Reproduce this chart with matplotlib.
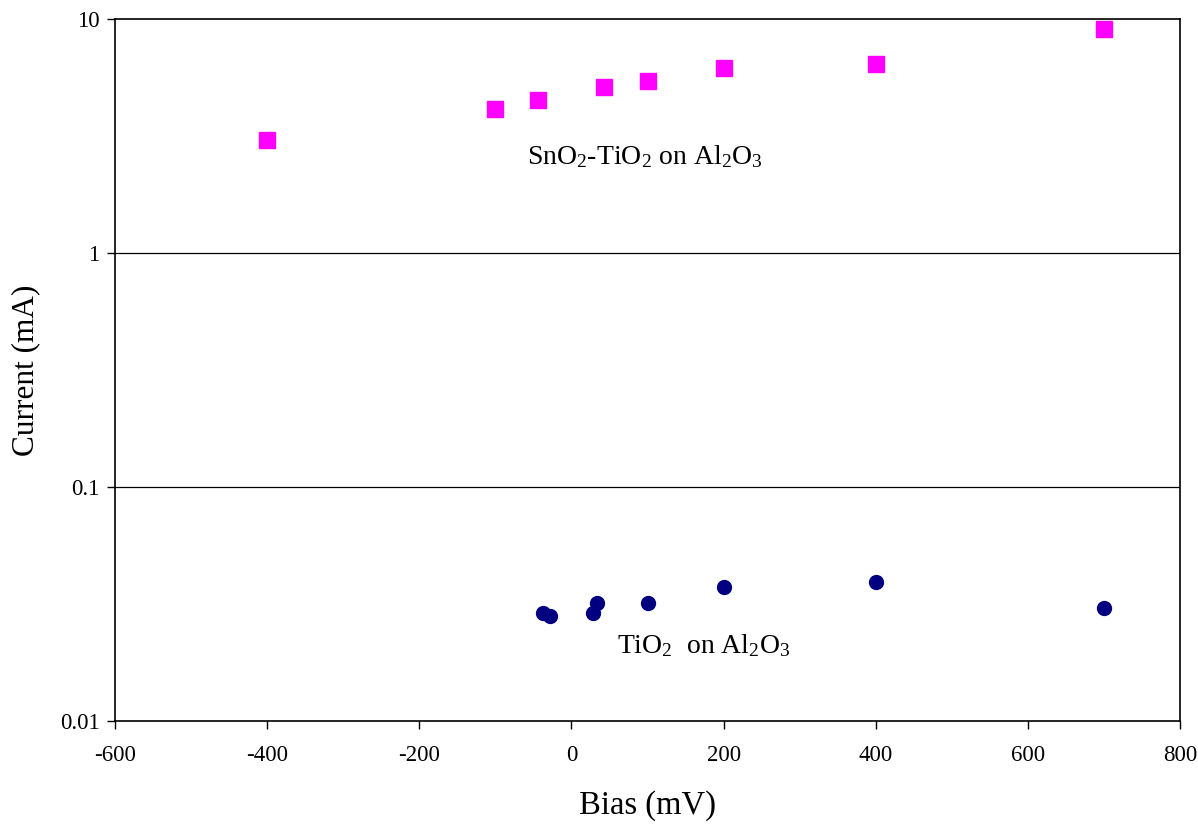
import numpy as np
import matplotlib.pyplot as plt

plt.rcParams['font.family'] = 'Liberation Serif'
plt.rcParams['mathtext.fontset'] = 'custom'
plt.rcParams['mathtext.rm'] = 'Liberation Serif'
plt.rcParams['mathtext.it'] = 'Liberation Serif'

# SnO2-TiO2 on Al2O3
bias_sn = [-400, -100, -44, 43, 100, 200, 400, 700]
cur_sn = [3.04, 4.12, 4.51, 5.12, 5.43, 6.18, 6.42, 9.06]

# TiO2 on Al2O3
bias_ti = [-37, -28, 34, 28, 100, 200, 400, 700]
cur_ti = [0.029, 0.0281, 0.0319, 0.029, 0.0319, 0.0374, 0.0393, 0.0304]

fig = plt.figure(figsize=(11.98, 8.25), dpi=100)
ax = fig.add_axes([0.096, 0.126, 0.889, 0.851])

ax.set_yscale('log')
ax.set_xlim(-600, 800)
ax.set_ylim(0.01, 10)
for yv in [0.1, 1]:
    ax.axhline(yv, color='black', lw=0.9, zorder=1)

ax.plot(bias_sn, cur_sn, 's', color='#ff00ff', markersize=11, zorder=3)
ax.plot(bias_ti, cur_ti, 'o', color='#000080', markersize=10, zorder=3)

ax.text(-58, 2.57, r'SnO$_2$-TiO$_2$ on Al$_2$O$_3$', fontsize=20, va='center', ha='left')
ax.text(60, 0.0211, r'TiO$_2$  on Al$_2$O$_3$', fontsize=20, va='center', ha='left')

ax.set_xticks(np.arange(-600, 801, 200))
ax.set_xticklabels([str(v) for v in range(-600, 801, 200)])
ax.set_yticks([0.01, 0.1, 1, 10])
ax.set_yticklabels(['0.01', '0.1', '1', '10'])
ax.minorticks_off()
ax.tick_params(direction='out', length=6, width=1, labelsize=16.5, pad=5)
ax.tick_params(axis='x', pad=11)

ax.set_xlabel('Bias (mV)', fontsize=23.5, labelpad=18)
ax.set_ylabel('Current (mA)', fontsize=22.5, labelpad=14)

for s in ax.spines.values():
    s.set_linewidth(1.2)

fig.savefig('out.png', dpi=100)
